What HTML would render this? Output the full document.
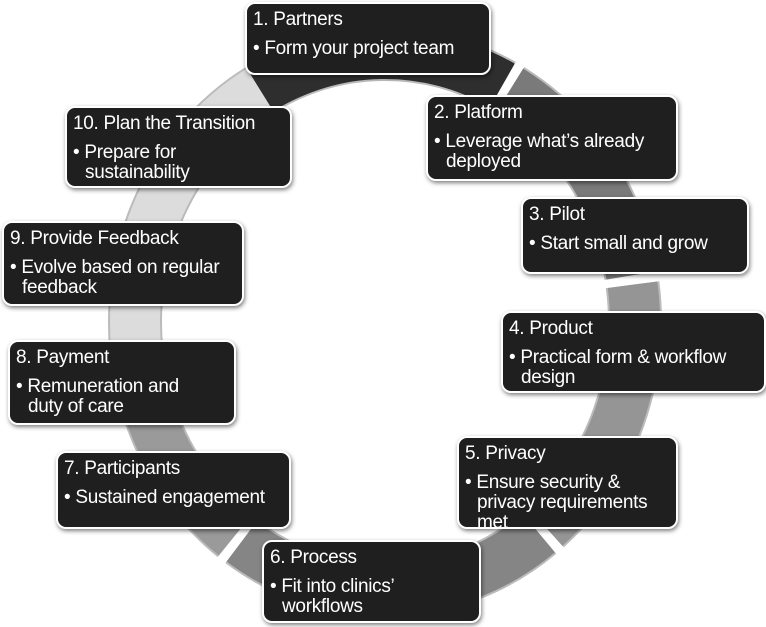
<!DOCTYPE html>
<html><head><meta charset="utf-8"><style>
body{margin:0;width:766px;height:627px;background:#fff;position:relative;overflow:hidden;font-family:"Liberation Sans",sans-serif;}
.b{position:absolute;background:#1f1f1f;border:2px solid #fff;border-radius:10px;box-shadow:1px 2px 4px rgba(0,0,0,.5);color:#fff;box-sizing:border-box;padding:6px 4px 0 6px;font-size:19px;line-height:20px;letter-spacing:-0.3px;white-space:nowrap;}
.b .t{margin-bottom:9px;}
.b .l{padding-left:12px;text-indent:-12px;}
svg{position:absolute;left:0;top:0}
</style></head><body>
<svg id="s" width="766" height="627"></svg>
<div class="b" style="left:245px;top:2px;width:246px;height:73px"><div class="t">1. Partners</div><div class="l">• Form your project team</div></div>
<div class="b" style="left:426px;top:95px;width:252px;height:86px"><div class="t">2. Platform</div><div class="l">• Leverage what’s already<br>deployed</div></div>
<div class="b" style="left:521px;top:197px;width:228px;height:77px"><div class="t">3. Pilot</div><div class="l">• Start small and grow</div></div>
<div class="b" style="left:501px;top:311px;width:265px;height:82px"><div class="t">4. Product</div><div class="l">• Practical form &amp; workflow<br>design</div></div>
<div class="b" style="left:457px;top:436px;width:221px;height:93px"><div class="t">5. Privacy</div><div class="l">• Ensure security &amp;<br>privacy requirements<br>met</div></div>
<div class="b" style="left:262px;top:540px;width:219px;height:83px"><div class="t">6. Process</div><div class="l">• Fit into clinics’<br>workflows</div></div>
<div class="b" style="left:56px;top:451px;width:235px;height:78px"><div class="t">7. Participants</div><div class="l">• Sustained engagement</div></div>
<div class="b" style="left:8px;top:340px;width:228px;height:85px"><div class="t">8. Payment</div><div class="l">• Remuneration and<br>duty of care</div></div>
<div class="b" style="left:2px;top:221px;width:242px;height:85px"><div class="t">9. Provide Feedback</div><div class="l">• Evolve based on regular<br>feedback</div></div>
<div class="b" style="left:65px;top:106px;width:227px;height:82px"><div class="t">10. Plan the Transition</div><div class="l">• Prepare for<br>sustainability</div></div>
<script>
var s=document.getElementById('s'),cx=385,cy=322,rx=250,ry=268;
function p(a){a=a*Math.PI/180;return [cx+rx*Math.sin(a),cy-ry*Math.cos(a)];}
var segs=[[-30,28,'#2e2e2e'],[30,80,'#7a7a7a'],[82,140,'#959595'],[142,215,'#858585'],[217,255,'#9a9a9a'],[257,330,'#dcdcdc']];
var h='';
segs.forEach(function(g){var a=p(g[0]),b=p(g[1]);h+='<path d="M'+a[0]+' '+a[1]+' A'+rx+' '+ry+' 0 0 1 '+b[0]+' '+b[1]+'" fill="none" stroke="#bbb" stroke-width="54"/>';h+='<path d="M'+a[0]+' '+a[1]+' A'+rx+' '+ry+' 0 0 1 '+b[0]+' '+b[1]+'" fill="none" stroke="'+g[2]+'" stroke-width="50"/>';});
s.innerHTML=h;
</script>
</body></html>
